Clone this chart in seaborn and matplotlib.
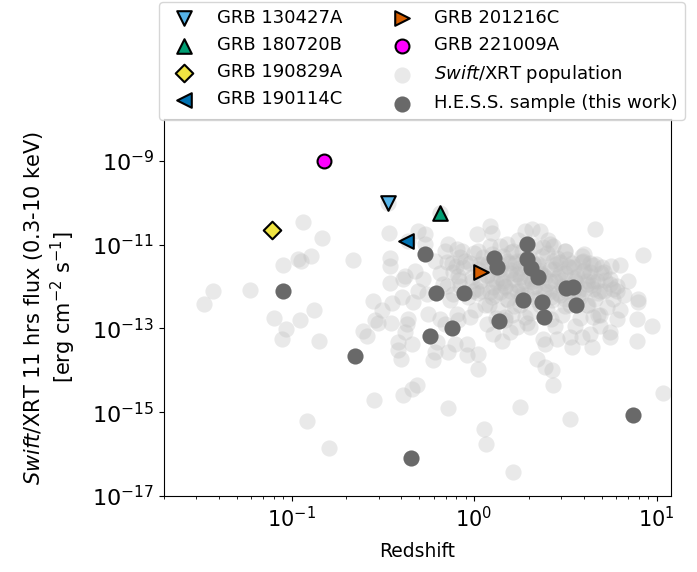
import numpy as np
import pandas as pd
import matplotlib
matplotlib.use("Agg")
import matplotlib.pyplot as plt
from matplotlib.ticker import FixedLocator, NullLocator, LogFormatterSciNotation
import seaborn as sns

# ---- Swift/XRT population (log10 redshift, log10 flux at 11 hrs) ----
pop_log_z = [
    -0.935, -0.831, -1.048, -0.962, -0.949, -0.894, -0.666, -1.433, -1.230, -1.480,
    -1.097, -0.954, -0.875, -1.031, -1.051, -0.850, -0.464, -0.462, -0.462, -0.458,
    -0.551, -0.451, -0.505, -0.542, -0.527, -0.606, -0.588, -0.455, -0.415, -0.415,
    -0.400, -0.546, -0.390, -0.914, -0.796, -0.471, -0.186, -0.360,
    -0.305, -0.268, -0.268, -0.141, -0.095, 0.015, 0.088, 0.097, 0.142, 0.179,
    0.215, -0.378, -0.323, -0.278, -0.214, -0.149, -0.077, -0.059, -0.113, -0.168,
    -0.387, -0.396, -0.305, -0.259, -0.113, -0.004, 0.033, 0.070, 0.106, 0.160,
    0.197, 0.234, 0.051, 0.179,
    0.279, 0.316, 0.361, 0.663, 0.416, 0.434, 0.379, 0.590, 0.599, 0.471,
    0.516, 0.699, 0.800, 0.927, 0.635, 0.672, 0.745, 0.763, 0.781, 0.900,
    0.234, 0.252, 0.416, 0.562, 0.617, 0.690,
    -0.332, -0.369, -0.360, -0.378, -0.341, -0.250, -0.186, -0.159, -0.204, -0.223,
    -0.214, -0.141, -0.104, -0.040, -0.040, 0.024, 0.024, -0.095, -0.022, 0.070,
    0.106, 0.152, 0.197, 0.170, -0.314, -0.341,
    0.900, 0.891, 0.973, 0.891, 0.745, 0.745, 0.781, 0.635, 0.590, 0.645,
    0.535, 0.526, 0.453, 0.379, 0.389, 0.307, 0.234, 0.343, 0.389, 0.426,
    0.434, 1.037, 0.653, 0.690,
    -0.144, 0.055, 0.064, 0.212, 0.254, 0.526,
    -0.159, -0.120, -0.088, -0.066, -0.022, -0.011, -0.033, 0.022, 0.044, 0.060,
    0.077, 0.099, 0.115, 0.131, 0.142, 0.159, 0.170, 0.186, 0.197, 0.208,
    0.225, 0.235, 0.252, 0.263, 0.274, 0.290, 0.307, 0.323, 0.334, 0.345,
    0.361, 0.372, 0.389, 0.400, 0.416, 0.427, 0.444, 0.455, 0.471, 0.482,
    0.498, 0.509, 0.526, 0.537, 0.553, 0.570, 0.580, 0.597, 0.608, 0.624,
    0.635, 0.652, 0.663, 0.679, 0.695, 0.712, 0.728, 0.745, 0.761, 0.783,
    0.800, 0.821, 0.843, 0.022, 0.088, -0.077, 0.005, 0.170, 0.290, 0.444,
    0.553, 0.690, 0.334, 0.498, -0.131, -0.088, -0.186, -0.148, 0.241, 0.405,
    0.12, 0.20, 0.28, 0.36, 0.44, 0.52, 0.60, 0.16, 0.24, 0.32,
    0.40, 0.48, 0.56, 0.64, 0.10, 0.18, 0.26, 0.34, 0.42, 0.50,
    0.58, 0.30, 0.38, 0.46,
    -0.05, 0.03, 0.11, 0.19, 0.27, 0.35, 0.43, 0.51, 0.59, 0.67,
    -0.01, 0.07, 0.15, 0.23, 0.31, 0.39, 0.47, 0.55, 0.63, 0.71,
    0.01, 0.09, 0.17, 0.25, 0.33, 0.41, 0.49, 0.57, 0.65,
    0.00, 0.10, 0.20, 0.30, 0.40, 0.50, 0.60,
    -0.10, 0.05, 0.15, 0.25, 0.35, 0.45, 0.55, 0.65, 0.75,
    -0.08, 0.12, 0.22, 0.32, 0.48, 0.62, 0.72,
    0.02, 0.14, 0.26, 0.38, 0.46, 0.54, 0.68,
    0.08, 0.22, 0.36, 0.50, 0.62,
    0.12, 0.28, 0.42,
]
pop_log_flux = [
    -10.47, -10.85, -11.48, -11.34, -11.38, -11.26, -11.36, -12.10, -12.09, -12.41,
    -12.75, -12.79, -12.56, -13.01, -13.25, -13.31, -10.72, -11.33, -11.50, -11.91,
    -12.34, -12.40, -12.57, -12.79, -12.86, -13.05, -13.17, -12.87, -13.33, -13.52,
    -13.74, -14.71, -14.58, -15.21, -15.86, -10.00, -10.24, -10.92,
    -10.67, -10.75, -10.98, -10.98, -11.10, -10.75, -10.55, -10.71, -11.02, -10.98,
    -11.14, -11.74, -11.62, -11.82, -11.38, -11.42, -11.30, -11.54, -11.66, -11.94,
    -11.82, -12.25, -12.10, -12.17, -12.17, -12.10, -11.86, -11.74, -12.02, -11.86,
    -12.10, -11.70, -11.30, -11.38,
    -10.67, -10.63, -10.67, -10.63, -10.98, -11.02, -11.06, -11.26, -11.38, -11.42,
    -11.50, -11.54, -11.48, -11.25, -11.66, -11.86, -11.94, -12.05, -12.10, -12.29,
    -11.38, -11.78, -11.86, -11.74, -11.94, -12.10,
    -12.37, -12.89, -12.77, -13.09, -13.36, -12.65, -12.77, -12.89, -13.33, -13.76,
    -13.56, -13.56, -13.36, -13.36, -13.64, -13.60, -13.96, -12.65, -12.73, -12.89,
    -13.13, -13.29, -13.09, -12.73, -14.36, -14.44,
    -12.37, -12.77, -12.93, -13.29, -13.09, -13.21, -12.77, -13.13, -13.21, -13.45,
    -13.45, -13.21, -13.25, -13.25, -13.36, -12.97, -12.97, -13.72, -13.92, -14.00,
    -14.36, -14.55, -12.73, -12.69,
    -14.91, -15.39, -15.75, -16.42, -14.87, -15.17,
    -11.14, -11.43, -11.74, -11.14, -11.43, -11.86, -12.26, -11.57, -12.10, -12.45,
    -11.43, -11.81, -12.21, -12.57, -11.57, -11.26, -11.98, -12.33, -11.67, -12.69,
    -11.43, -12.10, -12.45, -11.14, -11.86, -12.21, -12.62, -11.43, -11.98, -12.33,
    -11.67, -11.26, -12.10, -12.57, -11.57, -12.33, -11.86, -11.33, -12.21, -12.69,
    -11.67, -12.10, -12.45, -11.43, -11.86, -12.21, -12.76, -11.62, -12.05, -12.45,
    -11.43, -11.86, -12.29, -12.69, -11.67, -12.10, -12.48, -11.81, -12.29, -11.98,
    -12.57, -12.21, -11.86, -11.14, -11.02, -11.98, -12.57, -12.81, -12.86, -12.93,
    -12.93, -12.93, -11.02, -11.14, -12.33, -12.81, -11.67, -11.98, -10.90, -10.90,
    -11.55, -11.60, -11.52, -11.62, -11.58, -11.54, -11.60, -11.92, -11.96, -11.90,
    -11.94, -11.98, -11.92, -11.96, -12.25, -12.30, -12.22, -12.28, -12.24, -12.30,
    -12.26, -11.75, -11.72, -11.78,
    -11.40, -11.45, -11.38, -11.44, -11.36, -11.46, -11.40, -11.35, -11.42, -11.47,
    -11.78, -11.72, -11.80, -11.70, -11.82, -11.76, -11.68, -11.80, -11.74, -11.66,
    -12.05, -12.12, -12.00, -12.08, -12.02, -12.14, -12.04, -12.10, -12.06,
    -11.20, -11.22, -11.18, -11.24, -11.20, -11.16, -11.22,
    -11.50, -11.52, -11.48, -11.55, -11.50, -11.46, -11.53, -11.49, -11.51,
    -11.85, -11.88, -11.83, -11.86, -11.84, -11.87, -11.85,
    -12.15, -12.13, -12.17, -12.14, -12.16, -12.12, -12.15,
    -12.45, -12.47, -12.43, -12.46, -12.44,
    -12.75, -12.73, -12.77,
]

# ---- H.E.S.S. sample ----
hess_z = [0.090, 0.223, 0.539, 0.619, 0.882, 0.574, 0.758, 0.452, 1.288, 1.337, 1.371,
          1.95, 1.95, 2.05, 2.24, 1.85, 2.36, 2.42, 3.19, 3.48, 3.62, 7.43]
hess_flux = [8.0e-13, 2.2e-14, 6.1e-12, 7.2e-13, 7.2e-13, 6.5e-14, 1.0e-13, 8.0e-17,
             4.9e-12, 3.0e-12, 1.47e-13, 1.06e-11, 4.6e-12, 2.7e-12, 1.73e-12, 4.9e-13,
             4.2e-13, 1.83e-13, 9.0e-13, 9.5e-13, 3.7e-13, 8.5e-16]

# ---- individual GRBs ----
grb_names = ["GRB 130427A", "GRB 180720B", "GRB 190829A", "GRB 190114C",
             "GRB 201216C", "GRB 221009A"]
grb_z = [0.338, 0.652, 0.078, 0.424, 1.09, 0.151]
grb_flux = [1.0e-10, 5.8e-11, 2.3e-11, 1.2e-11, 2.2e-12, 1.0e-9]
grb_markers = ["v", "^", "D", "<", ">", "o"]
grb_colors = ["#56B4E9", "#009E73", "#F0E442", "#0072B2", "#D55E00", "#FF00FF"]
grb_sizes = [110, 110, 80, 110, 110, 100]

y_ticks = [1e-17, 1e-15, 1e-13, 1e-11, 1e-9]

plt.rcParams["font.family"] = ["DejaVu Sans"]
plt.rcParams["mathtext.fontset"] = "dejavusans"

fig = plt.figure(figsize=(6.97, 5.72), dpi=100)
ax = fig.add_axes([164 / 697, 76 / 572, 507 / 697, 377 / 572])

pop = pd.DataFrame({"z": 10 ** np.array(pop_log_z), "flux": 10 ** np.array(pop_log_flux)})
hess = pd.DataFrame({"z": hess_z, "flux": hess_flux})

pop_label = r"$\it{Swift}$/XRT population"
hess_label = "H.E.S.S. sample (this work)"

sns.scatterplot(data=pop, x="z", y="flux", ax=ax, color="silver", alpha=0.35,
                s=135, linewidth=0, label=pop_label, zorder=1)
sns.scatterplot(data=hess, x="z", y="flux", ax=ax, color="dimgray",
                s=135, linewidth=0, label=hess_label, zorder=2)
for name, z, f, m, c, s in zip(grb_names, grb_z, grb_flux, grb_markers, grb_colors, grb_sizes):
    sns.scatterplot(x=[z], y=[f], ax=ax, marker=m, color=c, s=s,
                    edgecolor="black", linewidth=1.5, label=name, zorder=3)

ax.set_xscale("log")
ax.set_yscale("log")
ax.set_xlim(0.02, 12)
ax.set_ylim(1e-17, 1e-8)
ax.yaxis.set_major_locator(FixedLocator(y_ticks))
ax.yaxis.set_major_formatter(LogFormatterSciNotation())
ax.yaxis.set_minor_locator(NullLocator())
ax.tick_params(axis="x", labelsize=15)
ax.tick_params(axis="y", labelsize=16)

ax.set_xlabel("Redshift", fontsize=13.5, labelpad=8)
ax.set_ylabel("$\\it{Swift}$/XRT 11 hrs flux (0.3-10 keV)\n[erg cm$^{-2}$ s$^{-1}$]",
              fontsize=15, labelpad=10)

handles, labels = ax.get_legend_handles_labels()
order = grb_names + [pop_label, hess_label]
hmap = dict(zip(labels, handles))
ax.legend([hmap[l] for l in order], order, ncol=2, fontsize=13,
          loc="upper center", bbox_to_anchor=(422 / 697, 1 - 2 / 572),
          bbox_transform=fig.transFigure, borderaxespad=0, columnspacing=2.3,
          frameon=True)

fig.savefig("out.png", dpi=100)
